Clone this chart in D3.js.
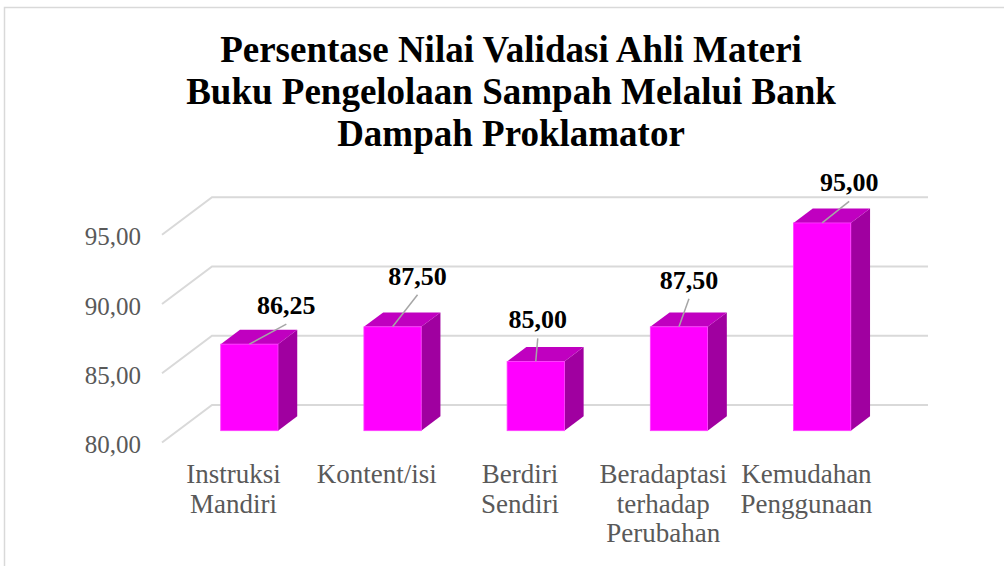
<!DOCTYPE html>
<html>
<head>
<meta charset="utf-8">
<script src="https://cdn.jsdelivr.net/npm/d3@7"></script>
<style>
  html, body { margin: 0; padding: 0; background: #fff; }
  svg { display: block; }
</style>
</head>
<body>
<svg id="chart" width="1004" height="566"></svg>
<script>
// chart data
const titleLines = ['Persentase Nilai Validasi Ahli Materi', 'Buku Pengelolaan Sampah Melalui Bank', 'Dampah Proklamator'];
const categories = ['Instruksi Mandiri', 'Kontent/isi', 'Berdiri Sendiri', 'Beradaptasi terhadap Perubahan', 'Kemudahan Penggunaan'];
const categoryLines = [['Instruksi', 'Mandiri'], ['Kontent/isi'], ['Berdiri', 'Sendiri'], ['Beradaptasi', 'terhadap', 'Perubahan'], ['Kemudahan', 'Penggunaan']];
const values = [86.25, 87.5, 85.0, 87.5, 95.0];
const yTicks = [80, 85, 90, 95];

// hand placed data labels, offset from the top front edge of each bar
const labelOffsets = [[37, -30], [25, -42], [2, -33], [10, -38], [27, -31.5]];

const FONT = "'Liberation Serif', 'Times New Roman', serif";
const svg = d3.select('#chart');
const fmt = v => d3.format('.2f')(v).replace('.', ',');

// oblique 3D projection: depth z in [0,1] shifts right and up
const depthX = 50, depthY = 37.5;
const x = d3.scaleBand().domain(categories).range([162, 878]);
const y = d3.scaleLinear().domain([80, 95]).range([442.5, 442.5 - 15 * 13.85]);
const px = (cx, z) => cx + z * depthX;
const py = (v, z) => y(v) - z * depthY;

const barZ0 = 0.315, barZ1 = 0.70, barW = x.bandwidth() * 0.4;

// outer border
svg.append('rect')
  .attr('x', 4.5).attr('y', 7.5).attr('width', 1010).attr('height', 570)
  .attr('fill', 'none').attr('stroke', '#d9d9d9').attr('stroke-width', 1.5);

// title
svg.append('g').selectAll('text').data(titleLines).join('text')
  .attr('x', 511).attr('y', (d, i) => 62 + i * 42)
  .attr('text-anchor', 'middle')
  .attr('font-family', FONT)
  .attr('font-weight', 'bold').attr('font-size', 37).attr('fill', '#000')
  .text(d => d);

// gridlines: side wall diagonals + back wall lines
const x0 = x.range()[0], x1 = x.range()[1];
const grid = svg.append('g').attr('stroke', '#d9d9d9').attr('stroke-width', 2).attr('fill', 'none');
grid.selectAll('path').data(yTicks).join('path')
  .attr('d', v => `M${px(x0, 0)},${py(v, 0)}L${px(x0, 1)},${py(v, 1)}L${px(x1, 1)},${py(v, 1)}`);

// y axis labels
svg.append('g').selectAll('text').data(yTicks).join('text')
  .attr('x', 141).attr('y', v => py(v, 0) + 2)
  .attr('text-anchor', 'end').attr('dominant-baseline', 'central')
  .attr('font-family', FONT)
  .attr('font-size', 25).attr('fill', '#595959')
  .text(v => fmt(v));

// category labels
const cat = svg.append('g').selectAll('text').data(categories).join('text')
  .attr('text-anchor', 'middle')
  .attr('font-family', FONT)
  .attr('font-size', 27).attr('fill', '#595959');
cat.each(function (d, i) {
  d3.select(this).selectAll('tspan').data(categoryLines[i]).join('tspan')
    .attr('x', x(d) + x.bandwidth() / 2)
    .attr('y', (t, j) => 483 + j * 29.5)
    .text(t => t);
});

// bars
const bars = svg.append('g').selectAll('g').data(values).join('g');
const left = (d, i) => px(x(categories[i]) + x.bandwidth() / 2, barZ0) - barW / 2;
bars.append('path') // side
  .attr('fill', '#a000a0')
  .attr('d', (d, i) => {
    const l = left(d, i), r = l + barW, dx = (barZ1 - barZ0) * depthX, dy = (barZ1 - barZ0) * depthY;
    return `M${r},${py(80, barZ0)}L${r + dx},${py(80, barZ0) - dy}L${r + dx},${py(d, barZ0) - dy}L${r},${py(d, barZ0)}Z`;
  });
bars.append('path') // top
  .attr('fill', '#c000c0')
  .attr('d', (d, i) => {
    const l = left(d, i), r = l + barW, dx = (barZ1 - barZ0) * depthX, dy = (barZ1 - barZ0) * depthY, t = py(d, barZ0);
    return `M${l},${t}L${l + dx},${t - dy}L${r + dx},${t - dy}L${r},${t}Z`;
  });
bars.append('rect') // front
  .attr('fill', '#ff00ff')
  .attr('stroke', '#ff40ff').attr('stroke-width', 0.8)
  .attr('x', (d, i) => left(d, i))
  .attr('y', d => py(d, barZ0))
  .attr('width', barW)
  .attr('height', d => py(80, barZ0) - py(d, barZ0));

// leader lines and data labels
const labels = svg.append('g').selectAll('g').data(values).join('g');
const ax = (d, i) => left(d, i) + barW / 2;
labels.append('line')
  .attr('stroke', '#a6a6a6').attr('stroke-width', 1.5)
  .attr('x1', ax).attr('y1', d => py(d, barZ0))
  .attr('x2', (d, i) => ax(d, i) + labelOffsets[i][0])
  .attr('y2', (d, i) => py(d, barZ0) + labelOffsets[i][1] + 10);
labels.append('text')
  .attr('x', (d, i) => ax(d, i) + labelOffsets[i][0])
  .attr('y', (d, i) => py(d, barZ0) + labelOffsets[i][1])
  .attr('text-anchor', 'middle')
  .attr('font-family', FONT)
  .attr('font-weight', 'bold').attr('font-size', 26).attr('fill', '#000')
  .text(d => fmt(d));
</script>
</body>
</html>
